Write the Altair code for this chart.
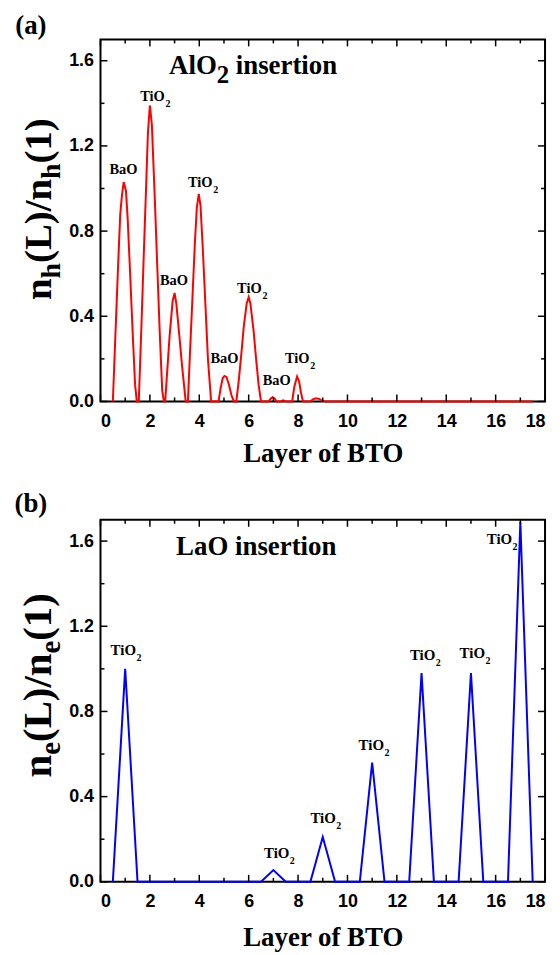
import altair as alt
import pandas as pd

SERIF = "Liberation Serif"
SANS = "Liberation Sans"

# ---------------- data ----------------
# Panel (a): AlO2 insertion  n_h(L)/n_h(1)
a_x = [0.5, 0.6, 0.7, 0.8, 0.87, 0.94, 1.03, 1.1, 1.2, 1.3, 1.4, 1.47,
       1.55, 1.65, 1.75, 1.85, 1.92, 2.0, 2.08, 2.2, 2.3, 2.4, 2.5, 2.57,
       2.62, 2.7, 2.8, 2.92, 3.0, 3.07, 3.2, 3.3, 3.45,
       3.54, 3.62, 3.72, 3.82, 3.9, 3.98, 4.05, 4.15, 4.25, 4.35, 4.48,
       4.78, 4.86, 4.95, 5.02, 5.1, 5.2, 5.3, 5.4,
       5.5, 5.6, 5.7, 5.8, 5.92, 6.0, 6.07, 6.2, 6.3, 6.4, 6.5,
       6.8, 6.9, 6.97, 7.05, 7.13,
       7.3, 7.4, 7.5,
       7.76, 7.85, 7.96, 8.04, 8.12, 8.2,
       8.5, 8.6, 8.72, 8.85, 8.95, 9.1,
       17.5]
a_y = [0, 0.3, 0.6, 0.88, 0.97, 1.03, 0.99, 0.86, 0.6, 0.33, 0.08, 0,
       0, 0.33, 0.68, 1.02, 1.26, 1.39, 1.3, 0.95, 0.63, 0.32, 0.05, 0,
       0, 0.14, 0.31, 0.47, 0.51, 0.46, 0.3, 0.17, 0,
       0, 0.22, 0.48, 0.74, 0.91, 0.975, 0.92, 0.7, 0.45, 0.2, 0,
       0, 0.06, 0.11, 0.12, 0.115, 0.08, 0.03, 0,
       0, 0.1, 0.22, 0.35, 0.46, 0.49, 0.46, 0.33, 0.2, 0.08, 0,
       0, 0.014, 0.02, 0.014, 0,
       0, 0.005, 0,
       0, 0.07, 0.117, 0.095, 0.04, 0,
       0, 0.01, 0.015, 0.012, 0.005, 0,
       0]

a_lab_text = ["BaO", "TiO", "TiO", "BaO", "TiO", "BaO", "BaO", "TiO"]
a_lab_sub = ["", "2", "2", "", "2", "", "", "2"]
a_lab_x = [0.36, 1.61, 3.54, 2.41, 5.53, 4.45, 6.57, 7.47]
a_lab_y = [1.07, 1.41, 1.006, 0.547, 0.508, 0.181, 0.078, 0.18]

# Panel (b): LaO insertion  n_e(L)/n_e(1)
b_x = [0.5, 1, 1.5, 6.5, 7, 7.5, 8.5, 9, 9.5, 10.5, 11, 11.5,
       12.5, 13, 13.5, 14.5, 15, 15.5, 16.5, 17, 17.5]
b_y = [0, 1.0, 0, 0, 0.055, 0, 0, 0.21, 0, 0, 0.56, 0,
       0, 0.98, 0, 0, 0.98, 0, 0, 1.69, 0]

b_lab_text = ["TiO", "TiO", "TiO", "TiO", "TiO", "TiO", "TiO"]
b_lab_sub = ["2", "2", "2", "2", "2", "2", "2"]
b_lab_x = [0.41, 6.62, 8.50, 10.45, 12.53, 14.54, 15.64]
b_lab_y = [1.065, 0.112, 0.276, 0.62, 1.04, 1.05, 1.588]

x_major = [0, 2, 4, 6, 8, 10, 12, 14, 16, 18]
x_minor = [1, 3, 5, 7, 9, 11, 13, 15, 17]
y_major = [0.0, 0.4, 0.8, 1.2, 1.6]
y_minor = [0.2, 0.6, 1.0, 1.4]

# ---------------- layout ----------------
W, H = 447, 364
XS = alt.Scale(domain=[0, 18], nice=False, zero=False)
YS = alt.Scale(domain=[0, 1.7], nice=False, zero=False)

one = pd.DataFrame({"d": [0]})

# Times-metric widths (Liberation Serif Bold) for composing the y titles
TW = {"n": 0.556, "h": 0.556, "e": 0.444, "(": 0.333, ")": 0.333,
      "L": 0.667, "/": 0.278, "1": 0.5}


def wid(s, fs):
    return sum(TW[c] for c in s) * fs


def txt(t, x, y, size, **kw):
    return alt.Chart(one).mark_text(
        text=t, font=SERIF, fontSize=size, fontWeight="bold", color="black", **kw
    ).encode(x=alt.value(x), y=alt.value(y))


def ticks_layers():
    layers = []
    for vals, ln in ((x_major, 7), (x_minor, 4)):
        d = pd.DataFrame({"x": vals})
        base = alt.Chart(d).mark_rule(color="black", strokeWidth=1.5)
        layers.append(base.encode(x=alt.X("x:Q", scale=XS),
                                  y=alt.value(H), y2=alt.value(H - ln)))
        layers.append(base.encode(x=alt.X("x:Q", scale=XS),
                                  y=alt.value(0), y2=alt.value(ln)))
    for vals, ln in ((y_major, 7), (y_minor, 4)):
        d = pd.DataFrame({"y": vals})
        base = alt.Chart(d).mark_rule(color="black", strokeWidth=1.5)
        layers.append(base.encode(y=alt.Y("y:Q", scale=YS),
                                  x=alt.value(0), x2=alt.value(ln)))
        layers.append(base.encode(y=alt.Y("y:Q", scale=YS),
                                  x=alt.value(W), x2=alt.value(W - ln)))
    return layers


def ytitle(sub_letter, y0, F, f):
    pieces = [("n", F, False), (sub_letter, f, True), ("(L)/n", F, False),
              (sub_letter, f, True), ("(1)", F, False)]
    out = []
    y = y0
    for s, fs, is_sub in pieces:
        out.append(txt(s, -50 + (9 if is_sub else 0), y, fs,
                       angle=270, align="left", baseline="alphabetic"))
        y -= wid(s, fs)
    return out


def panel(xs, ys, color, lx, ly, ltext, lsub, lsize, subdx, tag, tag_y,
          ins_pieces, sub_letter, ytitle_y0, yF, yf, title_pad):
    df = pd.DataFrame({"x": xs, "y": ys})
    line = alt.Chart(df).mark_line(color=color, strokeWidth=2).encode(
        x=alt.X("x:Q", scale=XS,
                axis=alt.Axis(values=x_major, title="Layer of BTO", format="d",
                              ticks=False, domain=False, grid=False,
                              labelFont=SANS, labelFontWeight="bold",
                              labelFontSize=18, labelColor="black",
                              labelPadding=11, titleFont=SERIF,
                              titleFontSize=27, titleFontWeight="bold",
                              titleColor="black", titlePadding=title_pad)),
        y=alt.Y("y:Q", scale=YS,
                axis=alt.Axis(values=y_major, title="", format=".1f",
                              ticks=False, domain=False, grid=False,
                              labelFont=SANS, labelFontWeight="bold",
                              labelFontSize=18, labelColor="black",
                              labelPadding=7)),
    )
    ldf = pd.DataFrame({"x": lx, "y": ly, "t": ltext, "s": lsub})
    labs = alt.Chart(ldf).mark_text(
        font=SERIF, fontSize=lsize, fontWeight="bold", color="black",
        align="left", baseline="alphabetic"
    ).encode(x=alt.X("x:Q", scale=XS),
             y=alt.Y("y:Q", scale=YS), text="t:N")
    sdf = ldf[ldf["s"] != ""]
    subs = alt.Chart(sdf).mark_text(
        font=SERIF, fontSize=10, fontWeight="bold", color="black",
        align="left", baseline="alphabetic", dx=subdx, dy=6
    ).encode(x=alt.X("x:Q", scale=XS),
             y=alt.Y("y:Q", scale=YS), text="s:N")
    layers = [line] + ticks_layers() + [labs, subs]
    layers.append(txt(tag, -70, tag_y, 27, align="center", baseline="middle"))
    for s, x, y, fs in ins_pieces:
        layers.append(txt(s, x, y, fs, align="left", baseline="alphabetic"))
    layers += ytitle(sub_letter, ytitle_y0, yF, yf)
    return alt.layer(*layers).properties(width=W, height=H)


top = panel(a_x, a_y, "#ff0000", a_lab_x, a_lab_y, a_lab_text, a_lab_sub,
            14.5, 25.5, "(a)", -13,
            [("AlO", 69, 35, 27), ("2", 117, 44, 25), ("insertion", 136, 35, 27)],
            "h", 262, 39, 28, 10)

bottom = panel(b_x, b_y, "#0000ff", b_lab_x, b_lab_y, b_lab_text, b_lab_sub,
               15, 26, "(b)", -16,
               [("LaO insertion", 76, 35, 27)],
               "e", 259, 41, 29, 14)

chart = alt.vconcat(top, bottom, spacing=119, bounds="flush").configure_view(
    stroke="black", strokeWidth=2
).properties(padding={"left": 5, "top": 1, "right": 5, "bottom": 5},
             background="white")

chart.save("out.html", embed_options={"renderer": "svg", "actions": False})
